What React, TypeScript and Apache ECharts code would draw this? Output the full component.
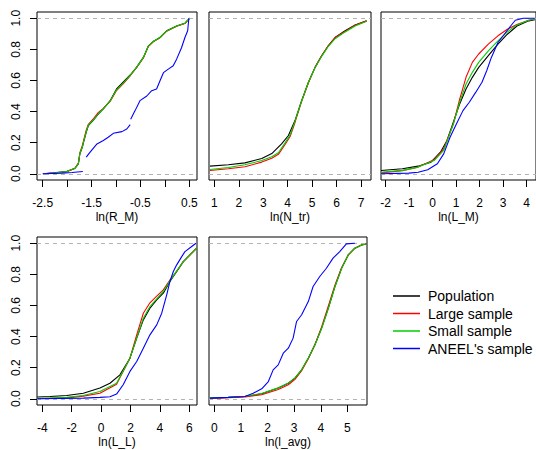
import React, { useEffect, useRef } from "react";
import * as echarts from "echarts";

const SERIES_NAMES = ["Population", "Large sample", "Small sample", "ANEEL's sample"];
const SERIES_COLORS = ["#000000", "#FF0000", "#00CD00", "#0000FF"];
const Y_TICKS = [0, 0.2, 0.4, 0.6, 0.8, 1];

// ---- Panel 1: ln(R_M)
const rmTicks = [-2.5, -2, -1.5, -1, -0.5, 0, 0.5];
const rmLabels = [-2.5, -1.5, -0.5, 0.5];
const rmPopulation = [[-2.49,0],[-2.28,0.006],[-2.01,0.015],[-1.84,0.036],[-1.77,0.064],[-1.74,0.128],[-1.69,0.17],[-1.655,0.214],[-1.61,0.267],[-1.566,0.31],[-1.46,0.346],[-1.36,0.385],[-1.26,0.417],[-1.12,0.47],[-0.99,0.545],[-0.85,0.59],[-0.71,0.635],[-0.58,0.684],[-0.44,0.748],[-0.34,0.82],[-0.24,0.85],[-0.1,0.876],[0.036,0.919],[0.24,0.95],[0.41,0.968],[0.51,1.0]];
const rmLarge = [[-2.49,0],[-2.28,0.004],[-2.01,0.013],[-1.84,0.034],[-1.77,0.07],[-1.74,0.135],[-1.69,0.18],[-1.655,0.225],[-1.61,0.28],[-1.566,0.318],[-1.46,0.355],[-1.36,0.395],[-1.26,0.42],[-1.12,0.465],[-0.99,0.535],[-0.85,0.58],[-0.71,0.63],[-0.58,0.682],[-0.44,0.745],[-0.34,0.818],[-0.24,0.848],[-0.1,0.875],[0.036,0.917],[0.24,0.948],[0.41,0.966],[0.51,1.0]];
const rmSmall = [[-2.49,0],[-2.28,0.005],[-2.01,0.014],[-1.84,0.035],[-1.77,0.066],[-1.74,0.13],[-1.69,0.172],[-1.655,0.218],[-1.61,0.27],[-1.566,0.312],[-1.46,0.348],[-1.36,0.386],[-1.26,0.418],[-1.12,0.468],[-0.99,0.54],[-0.85,0.585],[-0.71,0.632],[-0.58,0.684],[-0.44,0.748],[-0.34,0.82],[-0.24,0.85],[-0.1,0.876],[0.036,0.918],[0.24,0.95],[0.41,0.968],[0.51,1.0]];
const rmAneel = [[-2.5,0],[-2.1,0.004],[-1.9,0.008],[-1.68,0.015],null,[-1.61,0.107],[-1.53,0.139],[-1.39,0.192],[-1.26,0.214],[-1.16,0.235],[-1.055,0.26],[-0.88,0.271],[-0.78,0.288],[-0.71,0.316],null,[-0.7,0.35],[-0.61,0.406],[-0.51,0.47],[-0.37,0.5],[-0.27,0.534],[-0.17,0.545],[-0.1,0.598],[-0.03,0.65],[0.07,0.673],[0.17,0.694],[0.24,0.737],[0.34,0.81],[0.41,0.876],[0.466,0.919],[0.49,1.0]];

// ---- Panel 2: ln(N_tr)
const ntTicks = [1, 2, 3, 4, 5, 6, 7];
const ntPopulation = [[0.82,0.049],[1.57,0.058],[2.25,0.07],[2.94,0.098],[3.35,0.13],[3.75,0.192],[4.03,0.246],[4.3,0.342],[4.57,0.47],[4.85,0.588],[5.12,0.684],[5.39,0.759],[5.66,0.823],[5.94,0.876],[6.35,0.919],[6.76,0.957],[7.23,0.983]];
const ntLarge = [[0.82,0.021],[1.57,0.032],[2.25,0.045],[2.94,0.075],[3.35,0.1],[3.62,0.125],[3.9,0.19],[4.1,0.24],[4.3,0.33],[4.57,0.465],[4.85,0.585],[5.12,0.684],[5.39,0.759],[5.66,0.823],[5.94,0.876],[6.35,0.915],[6.76,0.955],[7.23,0.983]];
const ntSmall = [[0.82,0.028],[1.57,0.04],[2.25,0.058],[2.94,0.085],[3.35,0.11],[3.62,0.135],[3.9,0.2],[4.1,0.25],[4.3,0.338],[4.57,0.468],[4.85,0.588],[5.12,0.682],[5.39,0.755],[5.66,0.818],[5.94,0.868],[6.35,0.912],[6.76,0.95],[7.23,0.98]];

// ---- Panel 3: ln(L_M)
const lmTicks = [-2, -1, 0, 1, 2, 3, 4];
const lmPopulation = [[-2.2,0.021],[-1.29,0.032],[-0.62,0.049],[-0.07,0.075],[0.33,0.139],[0.61,0.214],[0.88,0.331],[1.15,0.449],[1.42,0.545],[1.69,0.62],[1.96,0.684],[2.37,0.759],[2.78,0.833],[3.18,0.897],[3.59,0.95],[4.09,0.983],[4.35,0.99]];
const lmLarge = [[-2.2,0.006],[-1.29,0.02],[-0.62,0.043],[0.06,0.09],[0.47,0.16],[0.88,0.32],[1.15,0.48],[1.42,0.62],[1.69,0.716],[1.96,0.77],[2.37,0.833],[2.78,0.887],[3.18,0.929],[3.59,0.96],[4.09,0.987],[4.35,0.995]];
const lmSmall = [[-2.2,0.01],[-1.29,0.022],[-0.62,0.043],[0.06,0.085],[0.47,0.15],[0.88,0.32],[1.15,0.46],[1.42,0.577],[1.69,0.652],[1.96,0.716],[2.37,0.79],[2.78,0.855],[3.18,0.912],[3.59,0.957],[4.09,0.987],[4.35,0.995]];
const lmAneel = [[-2.2,0],[-1.02,0.004],[-0.62,0.01],[-0.21,0.026],[0.2,0.064],[0.47,0.128],[0.74,0.235],[1.01,0.32],[1.29,0.406],[1.56,0.46],[1.83,0.523],[2.1,0.588],[2.3,0.662],[2.5,0.748],[2.78,0.844],[3.05,0.897],[3.32,0.95],[3.52,0.987],[3.86,1.0],[4.35,1.0]];

// ---- Panel 4: ln(L_L)
const llTicks = [-4, -2, 0, 2, 4, 6];
const llPopulation = [[-4.34,0.011],[-3.48,0.015],[-2.34,0.021],[-1.21,0.036],[-0.08,0.069],[0.6,0.1],[1.28,0.154],[1.96,0.261],[2.42,0.39],[2.87,0.507],[3.32,0.582],[3.78,0.636],[4.23,0.679],[4.68,0.754],[5.14,0.818],[5.59,0.882],[6.16,0.936],[6.5,0.968]];
const llLarge = [[-4.34,0],[-2.34,0.006],[-1.21,0.017],[-0.08,0.036],[1.05,0.094],[1.96,0.261],[2.42,0.411],[2.87,0.55],[3.32,0.617],[3.78,0.66],[4.23,0.7],[4.68,0.764],[5.14,0.82],[5.59,0.882],[6.16,0.936],[6.5,0.968]];
const llSmall = [[-4.34,0.002],[-2.34,0.009],[-1.21,0.021],[-0.08,0.047],[1.05,0.1],[1.96,0.261],[2.42,0.39],[2.87,0.518],[3.32,0.593],[3.78,0.642],[4.23,0.69],[4.68,0.758],[5.14,0.822],[5.59,0.882],[6.16,0.936],[6.5,0.968]];
const llAneel = [[-4.34,0],[-1.21,0.004],[-0.08,0.009],[0.6,0.013],[1.05,0.03],[1.5,0.09],[1.96,0.176],[2.42,0.24],[2.87,0.325],[3.32,0.411],[3.78,0.475],[4.12,0.55],[4.46,0.668],[4.68,0.754],[4.91,0.818],[5.14,0.861],[5.48,0.914],[5.7,0.946],[6.16,0.979],[6.45,1.0]];

// ---- Panel 5: ln(l_avg)
const laTicks = [0, 1, 2, 3, 4, 5];
const laPopulation = [[-0.16,0.004],[0.525,0.009],[1.15,0.015],[1.78,0.032],[2.4,0.069],[2.78,0.1],[3.03,0.133],[3.28,0.186],[3.53,0.261],[3.78,0.347],[4.03,0.454],[4.28,0.582],[4.53,0.722],[4.78,0.839],[5.03,0.925],[5.28,0.968],[5.53,0.989],[5.71,0.996]];
const laLarge = [[-0.16,0.002],[0.525,0.007],[1.15,0.012],[1.78,0.026],[2.4,0.06],[2.78,0.09],[3.03,0.125],[3.28,0.18],[3.53,0.258],[3.78,0.35],[4.03,0.462],[4.28,0.595],[4.53,0.73],[4.78,0.842],[5.03,0.925],[5.28,0.968],[5.53,0.989],[5.71,0.996]];
const laSmall = [[-0.16,0.005],[0.525,0.01],[1.15,0.016],[1.78,0.034],[2.4,0.07],[2.78,0.101],[3.03,0.134],[3.28,0.187],[3.53,0.262],[3.78,0.347],[4.03,0.452],[4.28,0.58],[4.53,0.72],[4.78,0.837],[5.03,0.924],[5.28,0.968],[5.53,0.989],[5.71,0.996]];
const laAneel = [[-0.16,0.004],[0.525,0.009],[1.15,0.015],[1.46,0.036],[1.78,0.064],[2.03,0.111],[2.21,0.186],[2.4,0.218],[2.59,0.293],[2.78,0.325],[2.96,0.39],[3.09,0.497],[3.28,0.54],[3.53,0.625],[3.71,0.722],[3.96,0.786],[4.21,0.839],[4.46,0.904],[4.71,0.946],[4.96,0.996],[5.28,1.0]];

const FONT = "'Liberation Sans', Arial, Helvetica, sans-serif";

const panels = [
  { grid: { left: 37, top: 12, width: 160, height: 168 }, xMin: -2.617, xMax: 0.657, ticks: rmTicks, labels: rmLabels, name: "ln(R_M)", showY: true, data: [rmPopulation, rmLarge, rmSmall, rmAneel] },
  { grid: { left: 209, top: 12, width: 162, height: 168 }, xMin: 0.78, xMax: 7.41, ticks: ntTicks, labels: ntTicks, name: "ln(N_tr)", showY: false, data: [ntPopulation, ntLarge, ntSmall, null] },
  { grid: { left: 381, top: 12, width: 162, height: 168 }, xMin: -2.2, xMax: 4.4, ticks: lmTicks, labels: lmTicks, name: "ln(L_M)", showY: false, data: [lmPopulation, lmLarge, lmSmall, lmAneel] },
  { grid: { left: 37, top: 237, width: 160, height: 168 }, xMin: -4.36, xMax: 6.52, ticks: llTicks, labels: llTicks, name: "ln(L_L)", showY: true, data: [llPopulation, llLarge, llSmall, llAneel] },
  { grid: { left: 209, top: 237, width: 158, height: 168 }, xMin: -0.2, xMax: 5.735, ticks: laTicks, labels: laTicks, name: "ln(l_avg)", showY: false, data: [laPopulation, laLarge, laSmall, laAneel] },
];

export default function App() {
  const ref = useRef<HTMLDivElement>(null);
  useEffect(() => {
    if (!ref.current) return;
    const chart = echarts.init(ref.current, undefined, { renderer: "svg" });
    const grid: any[] = [];
    const xAxis: any[] = [];
    const yAxis: any[] = [];
    const series: any[] = [];
    panels.forEach((p, i) => {
      grid.push({ ...p.grid, show: true, borderColor: "#000", borderWidth: 1, backgroundColor: "transparent", containLabel: false });
      xAxis.push({
        type: "value", gridIndex: i, min: p.xMin, max: p.xMax, position: "bottom",
        axisLine: { show: false, onZero: false },
        splitLine: { show: false },
        axisTick: { show: true, length: 7, customValues: p.ticks, lineStyle: { color: "#000", width: 1 } },
        axisLabel: { customValues: p.labels, fontSize: 12, color: "#000", margin: 17, fontFamily: FONT, hideOverlap: false },
        name: p.name, nameLocation: "middle", nameGap: 31,
        nameTextStyle: { fontSize: 12, color: "#000", fontFamily: FONT },
      });
      yAxis.push({
        type: "value", gridIndex: i, min: -0.04, max: 1.04, position: "left",
        axisLine: { show: false, onZero: false },
        splitLine: { show: false },
        axisTick: { show: p.showY, length: 7, customValues: Y_TICKS, lineStyle: { color: "#000", width: 1 } },
        axisLabel: {
          show: p.showY, customValues: Y_TICKS, rotate: 90, fontSize: 12, color: "#000", margin: 15, fontFamily: FONT,
          formatter: (v: number) => v.toFixed(1),
        },
      });
      p.data.forEach((d, k) => {
        if (!d) return;
        series.push({
          type: "line", name: SERIES_NAMES[k], xAxisIndex: i, yAxisIndex: i,
          data: d.map((pt) => (pt === null ? "-" : pt)),
          symbol: "none", showSymbol: false, connectNulls: false,
          lineStyle: { color: SERIES_COLORS[k], width: 1.1 },
          itemStyle: { color: SERIES_COLORS[k] },
          z: 2 + k,
          silent: true,
          markLine: k === 0 ? {
            silent: true, symbol: ["none", "none"], label: { show: false },
            lineStyle: { color: "#B3B3B3", type: [4, 4], width: 1 },
            data: [{ yAxis: 0 }, { yAxis: 1 }],
          } : undefined,
        });
      });
    });
    chart.setOption({
      animation: false,
      textStyle: { fontFamily: FONT },
      grid, xAxis, yAxis, series,
      legend: {
        data: SERIES_NAMES.map((n, k) => ({ name: n, itemStyle: { color: SERIES_COLORS[k] } })),
        orient: "vertical",
        left: 388, top: 284,
        icon: "rect",
        itemWidth: 27, itemHeight: 1.5,
        itemGap: 3.5,
        selectedMode: false,
        textStyle: { fontSize: 14, color: "#000", fontFamily: FONT, padding: [0, 0, 0, 3] },
      },
    });
    return () => chart.dispose();
  }, []);
  return <div ref={ref} style={{ position: "absolute", left: 0, top: 0, width: 536, height: 450 }} />;
}
